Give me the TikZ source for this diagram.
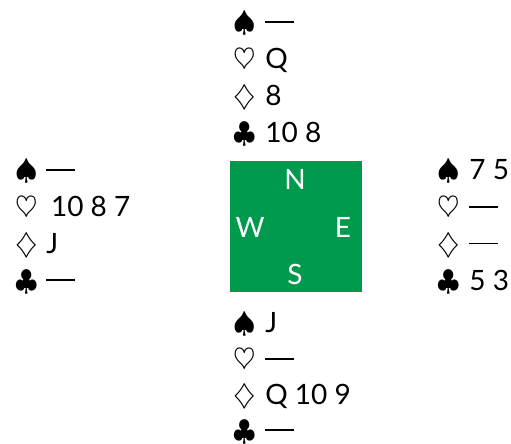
\documentclass[tikz,border=0pt]{standalone}
\usepackage{amsmath,amssymb}
\usepackage{fontspec}
\setmainfont{Lato}
\usetikzlibrary{positioning}
\definecolor{tablegreen}{RGB}{0,154,77}
\newcommand\nocards{\rule[4.5pt]{14.5pt}{0.8pt}}
\tikzset{
  cards/.style={anchor=base west, inner sep=0pt, font=\fontsize{14}{16}\selectfont},
  seat/.style={anchor=base, inner sep=0pt, text=white, font=\fontsize{14}{16}\selectfont}
}

\begin{document}
\begin{tikzpicture}[x=0.5pt,y=-0.5pt]
\useasboundingbox (0,0) rectangle (511,444);
\fill[tablegreen] (230,161) rectangle (362,292);
\node[seat] (n) at (295,190) {N}; \node[seat] (s) at (295,285) {S};
\node[seat] (w) at (250,238) {W}; \node[seat] (e) at (343,238) {E};
% North
\foreach \s/\c [count=\i] in {\spadesuit/\nocards, \heartsuit/Q, \diamondsuit/8, \clubsuit/10 8}
  \node[cards] (north\i) at (233,{32+36.7*(\i-1)}) {\makebox[16pt][l]{$\s$}\c};
% West
\foreach \s/\c [count=\i] in {\spadesuit/\nocards, \heartsuit/\,10 8 7, \diamondsuit/J, \clubsuit/\nocards}
  \node[cards] (west\i) at (15,{180+36.7*(\i-1)}) {\makebox[15.5pt][l]{$\s$}\c};
% East
\foreach \s/\c [count=\i] in {\spadesuit/7 5, \heartsuit/\nocards, \diamondsuit/\nocards, \clubsuit/5 3}
  \node[cards] (east\i) at (437,{180+36.7*(\i-1)}) {\makebox[16pt][l]{$\s$}\c};
% South
\foreach \s/\c [count=\i] in {\spadesuit/J, \heartsuit/\nocards, \diamondsuit/Q 10 9, \clubsuit/\nocards}
  \node[cards] (south\i) at (233,{333+35.7*(\i-1)}) {\makebox[16pt][l]{$\s$}\c};
\end{tikzpicture}
\end{document}
